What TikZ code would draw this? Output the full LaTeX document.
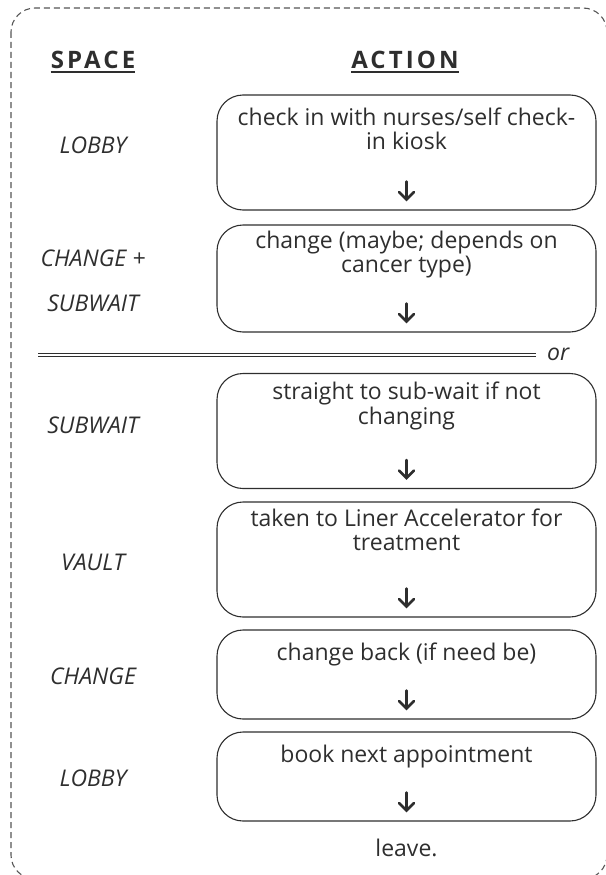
\documentclass[tikz,border=0pt]{standalone}
\usepackage{fontspec}
\setmainfont{Open Sans}
\definecolor{ink}{HTML}{2E2E2E}
\definecolor{frame}{HTML}{555555}
\tikzset{
  stepbox/.style={draw=ink, line width=1.1pt, rounded corners=26pt,
    minimum width=379pt, inner sep=0pt},
  steptext/.style={font=\fontsize{23}{24.5}\selectfont, text=ink,
    align=center, anchor=north, inner sep=0pt},
  spacelabel/.style={font=\fontsize{23}{24}\selectfont\itshape, text=ink,
    inner sep=0pt},
  header/.style={font=\fontsize{24}{26}\selectfont\bfseries\addfontfeature{LetterSpace=13}, text=ink,
    inner sep=0pt},
  downarrow/.style={line width=2.6pt, draw=ink, line cap=round, line join=miter},
}
\begin{document}
\begin{tikzpicture}[x=1pt,y=-1pt]
\useasboundingbox (0,0) rectangle (605,875);

% dashed outer frame
\draw[frame, line width=1.1pt, dash pattern=on 6pt off 4pt, rounded corners=24pt]
  (11,8) rectangle (607,879);

% column headers
\node[header] (hspace) at (93,60) {SPACE};
\node[header] (haction) at (405,60) {ACTION};
\draw[ink, line width=1.4pt] ([yshift=-3pt]hspace.south west) -- ([yshift=-3pt]hspace.south east);
\draw[ink, line width=1.4pt] ([yshift=-3pt]haction.south west) -- ([yshift=-3pt]haction.south east);

% action boxes
\node[stepbox, minimum height=115pt] (b1) at (406.5,152.5) {};
\node[stepbox, minimum height=107pt] (b2) at (406.5,278.5) {};
\node[stepbox, minimum height=115pt] (b3) at (406.5,431) {};
\node[stepbox, minimum height=115pt] (b4) at (406.5,559.5) {};
\node[stepbox, minimum height=89pt]  (b5) at (406.5,674.5) {};
\node[stepbox, minimum height=89pt]  (b6) at (406.5,776.5) {};

\node[steptext] (t1) at ([yshift=-13pt]b1.north) {check in with nurses/self check-\\in kiosk};
\node[steptext] (t2) at ([yshift=-6pt]b2.north) {change (maybe; depends on\\cancer type)};
\node[steptext] (t3) at ([yshift=-9pt]b3.north) {straight to sub-wait if not\\changing};
\node[steptext] (t4) at ([yshift=-7pt]b4.north) {taken to Liner Accelerator for\\treatment};
\node[steptext] (t5) at ([yshift=-13pt]b5.north) {change back (if need be)};
\node[steptext] (t6) at ([yshift=-13pt]b6.north) {book next appointment};

% arrow glyphs near the bottom of each box
\foreach \b in {b1,b2,b3,b4,b5,b6}{
  \coordinate (\b a) at ([yshift=11pt]\b.south);
  \draw[downarrow] ([yshift=18pt]\b a) -- ([yshift=1pt]\b a);
  \draw[downarrow] ([xshift=-7.5pt,yshift=7.5pt]\b a) -- (\b a) -- ([xshift=7.5pt,yshift=7.5pt]\b a);
}

\node[font=\fontsize{23}{24}\selectfont, text=ink, inner sep=0pt] (leave) at (406.5,848) {leave.};

% alternative-path separator
\coordinate (sepL) at (38,355);
\coordinate (sepR) at (536,355);
\draw[ink, line width=0.8pt] ([yshift=-1.6pt]sepL) -- ([yshift=-1.6pt]sepR);
\draw[ink, line width=0.8pt] ([yshift=1.6pt]sepL) -- ([yshift=1.6pt]sepR);
\node[spacelabel, anchor=west] (or) at (547,354) {or};

% space labels
\node[spacelabel] (s1) at (93,145) {LOBBY};
\node[spacelabel] (s2) at (93,258) {CHANGE +};
\node[spacelabel] (s3) at (93,303) {SUBWAIT};
\node[spacelabel] (s4) at (93,425) {SUBWAIT};
\node[spacelabel] (s5) at (93,562) {VAULT};
\node[spacelabel] (s6) at (93,676) {CHANGE};
\node[spacelabel] (s7) at (93,778) {LOBBY};
\end{tikzpicture}
\end{document}
